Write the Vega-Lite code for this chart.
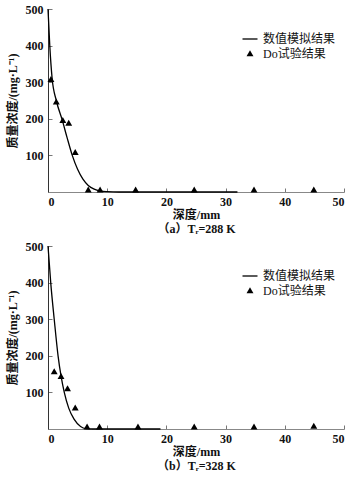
{
  "$schema": "https://vega.github.io/schema/vega-lite/v6.json",
  "background": "white",
  "padding": {"left": 6, "top": 3, "right": 2, "bottom": 0},
  "spacing": 6,
  "config": {
    "view": {"stroke": null},
    "font": "Liberation Serif, Noto Sans CJK SC",
    "axis": {
      "labelFont": "Liberation Serif, Noto Sans CJK SC",
      "titleFont": "Liberation Serif, Noto Sans CJK SC",
      "labelFontSize": 12,
      "titleFontSize": 12,
      "labelColor": "#111",
      "titleColor": "#111",
      "grid": false,
      "tickSize": -4,
      "tickColor": "#777",
      "labelFontWeight": "bold",
      "titleFontWeight": "bold"
    },
    "legend": {
      "labelFont": "Liberation Serif, Noto Sans CJK SC",
      "labelFontSize": 12,
      "labelColor": "#111"
    }
  },
  "data": {
    "values": [
      {"panel": "a", "series": "数值模拟结果", "depth": 0, "conc": 500},
      {"panel": "a", "series": "数值模拟结果", "depth": 0.3, "conc": 400},
      {"panel": "a", "series": "数值模拟结果", "depth": 0.7, "conc": 310},
      {"panel": "a", "series": "数值模拟结果", "depth": 1.4, "conc": 250},
      {"panel": "a", "series": "数值模拟结果", "depth": 2.4, "conc": 197},
      {"panel": "a", "series": "数值模拟结果", "depth": 3.2, "conc": 150},
      {"panel": "a", "series": "数值模拟结果", "depth": 4.1, "conc": 100},
      {"panel": "a", "series": "数值模拟结果", "depth": 5.0, "conc": 62},
      {"panel": "a", "series": "数值模拟结果", "depth": 5.9, "conc": 35},
      {"panel": "a", "series": "数值模拟结果", "depth": 6.8, "conc": 18},
      {"panel": "a", "series": "数值模拟结果", "depth": 7.8, "conc": 8},
      {"panel": "a", "series": "数值模拟结果", "depth": 8.8, "conc": 3},
      {"panel": "a", "series": "数值模拟结果", "depth": 10, "conc": 1},
      {"panel": "a", "series": "数值模拟结果", "depth": 12, "conc": 0},
      {"panel": "a", "series": "数值模拟结果", "depth": 32, "conc": 0},
      {"panel": "a", "series": "Do试验结果", "depth": 0.5, "conc": 307},
      {"panel": "a", "series": "Do试验结果", "depth": 1.4, "conc": 245},
      {"panel": "a", "series": "Do试验结果", "depth": 2.5, "conc": 195},
      {"panel": "a", "series": "Do试验结果", "depth": 3.5, "conc": 187},
      {"panel": "a", "series": "Do试验结果", "depth": 4.6, "conc": 107},
      {"panel": "a", "series": "Do试验结果", "depth": 6.8, "conc": 5},
      {"panel": "a", "series": "Do试验结果", "depth": 8.8, "conc": 5},
      {"panel": "a", "series": "Do试验结果", "depth": 14.8, "conc": 5},
      {"panel": "a", "series": "Do试验结果", "depth": 24.7, "conc": 5},
      {"panel": "a", "series": "Do试验结果", "depth": 34.8, "conc": 5},
      {"panel": "a", "series": "Do试验结果", "depth": 44.9, "conc": 5},
      {"panel": "b", "series": "数值模拟结果", "depth": 0, "conc": 500},
      {"panel": "b", "series": "数值模拟结果", "depth": 0.47, "conc": 398},
      {"panel": "b", "series": "数值模拟结果", "depth": 1.05, "conc": 300},
      {"panel": "b", "series": "数值模拟结果", "depth": 1.7, "conc": 200},
      {"panel": "b", "series": "数值模拟结果", "depth": 2.2, "conc": 145},
      {"panel": "b", "series": "数值模拟结果", "depth": 2.75, "conc": 100},
      {"panel": "b", "series": "数值模拟结果", "depth": 3.5, "conc": 57},
      {"panel": "b", "series": "数值模拟结果", "depth": 4.4, "conc": 27},
      {"panel": "b", "series": "数值模拟结果", "depth": 5.5, "conc": 7},
      {"panel": "b", "series": "数值模拟结果", "depth": 6.4, "conc": 1},
      {"panel": "b", "series": "数值模拟结果", "depth": 7.5, "conc": 0},
      {"panel": "b", "series": "数值模拟结果", "depth": 19, "conc": 0},
      {"panel": "b", "series": "Do试验结果", "depth": 1.05, "conc": 156},
      {"panel": "b", "series": "Do试验结果", "depth": 2.2, "conc": 143},
      {"panel": "b", "series": "Do试验结果", "depth": 3.3, "conc": 109},
      {"panel": "b", "series": "Do试验结果", "depth": 4.6, "conc": 57},
      {"panel": "b", "series": "Do试验结果", "depth": 6.6, "conc": 5},
      {"panel": "b", "series": "Do试验结果", "depth": 8.7, "conc": 5},
      {"panel": "b", "series": "Do试验结果", "depth": 15.2, "conc": 5},
      {"panel": "b", "series": "Do试验结果", "depth": 24.7, "conc": 5},
      {"panel": "b", "series": "Do试验结果", "depth": 34.8, "conc": 5},
      {"panel": "b", "series": "Do试验结果", "depth": 44.9, "conc": 7}
    ]
  },
  "vconcat": [
    {
      "width": 296,
      "height": 183,
      "transform": [{"filter": "datum.panel == 'a'"}],
      "encoding": {
        "x": {
          "field": "depth", "type": "quantitative",
          "scale": {"domain": [0, 50], "nice": false},
          "axis": {"values": [0, 10, 20, 30, 40, 50], "domainColor": "#888", "labelPadding": 8, "title": ["深度/mm", "（a）Tᵣ=288 K"], "titlePadding": 2, "titleLineHeight": 14}
        },
        "y": {
          "field": "conc", "type": "quantitative",
          "scale": {"domain": [0, 500], "nice": false},
          "axis": {"values": [100, 200, 300, 400, 500], "domainColor": "#333", "labelPadding": 9, "title": "质量浓度/(mg·L⁻¹)", "titlePadding": 6}
        },
        "color": {
          "field": "series", "type": "nominal",
          "scale": {"domain": ["数值模拟结果", "Do试验结果"], "range": ["black", "black"]},
          "legend": {
            "title": null, "orient": "none", "legendX": 196, "legendY": 24,
            "padding": 0, "rowPadding": 3, "labelOffset": 7, "symbolSize": 225,
            "encode": {"symbols": {"update": {
              "shape": {"signal": "datum.label == '数值模拟结果' ? 'M-1,0H1' : 'M0,-0.5L0.46,0.3L-0.46,0.3Z'"},
              "stroke": {"value": "black"},
              "strokeWidth": {"signal": "datum.label == '数值模拟结果' ? 1.3 : 0"},
              "fill": {"value": "black"},
              "size": {"value": 225},
              "opacity": {"value": 1}
            }}}
          }
        }
      },
      "layer": [
        {
          "transform": [{"filter": "datum.series == '数值模拟结果'"}],
          "mark": {"type": "line", "interpolate": "monotone", "strokeWidth": 1.3}
        },
        {
          "transform": [{"filter": "datum.series == 'Do试验结果'"}],
          "mark": {"type": "point", "filled": true, "size": 225, "opacity": 1, "shape": "M0,-0.5L0.46,0.3L-0.46,0.3Z"}
        }
      ]
    },
    {
      "width": 296,
      "height": 183,
      "transform": [{"filter": "datum.panel == 'b'"}],
      "encoding": {
        "x": {
          "field": "depth", "type": "quantitative",
          "scale": {"domain": [0, 50], "nice": false},
          "axis": {"values": [0, 10, 20, 30, 40, 50], "domainColor": "#888", "labelPadding": 8, "title": ["深度/mm", "（b）Tᵣ=328 K"], "titlePadding": 2, "titleLineHeight": 14}
        },
        "y": {
          "field": "conc", "type": "quantitative",
          "scale": {"domain": [0, 500], "nice": false},
          "axis": {"values": [100, 200, 300, 400, 500], "domainColor": "#333", "labelPadding": 9, "title": "质量浓度/(mg·L⁻¹)", "titlePadding": 6}
        },
        "color": {
          "field": "series", "type": "nominal",
          "scale": {"domain": ["数值模拟结果", "Do试验结果"], "range": ["black", "black"]},
          "legend": {
            "title": null, "orient": "none", "legendX": 196, "legendY": 24,
            "padding": 0, "rowPadding": 3, "labelOffset": 7, "symbolSize": 225,
            "encode": {"symbols": {"update": {
              "shape": {"signal": "datum.label == '数值模拟结果' ? 'M-1,0H1' : 'M0,-0.5L0.46,0.3L-0.46,0.3Z'"},
              "stroke": {"value": "black"},
              "strokeWidth": {"signal": "datum.label == '数值模拟结果' ? 1.3 : 0"},
              "fill": {"value": "black"},
              "size": {"value": 225},
              "opacity": {"value": 1}
            }}}
          }
        }
      },
      "layer": [
        {
          "transform": [{"filter": "datum.series == '数值模拟结果'"}],
          "mark": {"type": "line", "interpolate": "monotone", "strokeWidth": 1.3}
        },
        {
          "transform": [{"filter": "datum.series == 'Do试验结果'"}],
          "mark": {"type": "point", "filled": true, "size": 225, "opacity": 1, "shape": "M0,-0.5L0.46,0.3L-0.46,0.3Z"}
        }
      ]
    }
  ],
  "resolve": {"scale": {"color": "independent"}, "legend": {"color": "independent"}}
}
